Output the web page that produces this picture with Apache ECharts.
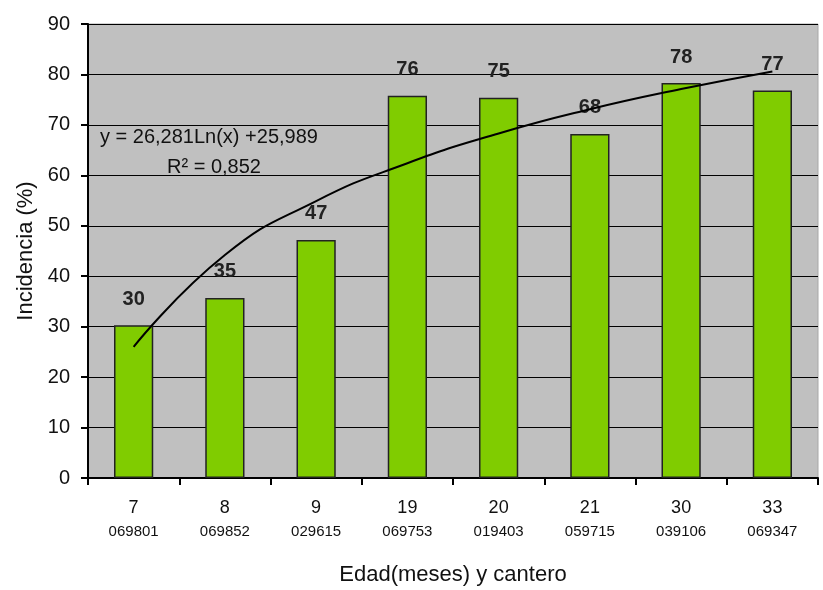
<!DOCTYPE html>
<html><head><meta charset="utf-8">
<script src="https://cdn.jsdelivr.net/npm/echarts@6/dist/echarts.min.js"></script>
<style>html,body{margin:0;padding:0;background:#fff}#c{width:823px;height:590px}</style>
</head><body><div id="c"></div>
<script>
var ages = ['7','8','9','19','20','21','30','33'];
var canteros = ['069801','069852','029615','069753','019403','059715','039106','069347'];
var incidencia = [30.3, 35.7, 47.2, 75.8, 75.4, 68.2, 78.3, 76.8];
var barLabels = ['30','35','47','76','75','68','78','77'];
var trend = [26.0, 44.2, 54.9, 62.4, 68.3, 73.1, 77.1, 80.6];
var yTicks = [0,10,20,30,40,50,60,70,80,90];

var chart = echarts.init(document.getElementById('c'));
chart.setOption({
  animation: false,
  grid: {left: 88, right: 5, top: 24, bottom: 112, outerBoundsMode: 'none', containLabel: false, show: true, backgroundColor: '#c0c0c0', borderColor: '#a8a8a8', borderWidth: 1},
  xAxis: {
    type: 'category',
    data: ages.map(function(a,i){return a + '\n' + canteros[i];}),
    boundaryGap: true,
    name: 'Edad(meses) y cantero',
    nameLocation: 'middle',
    nameGap: 86,
    nameTextStyle: {fontFamily: 'Liberation Sans', fontSize: 22, color: '#111'},
    axisLine: {lineStyle: {color: '#000', width: 2}},
    axisTick: {show: true, alignWithLabel: false, length: 7, lineStyle: {color: '#000', width: 2}},
    axisLabel: {
      margin: 17,
      formatter: function(v){ var p = v.split('\n'); return '{a|' + p[0] + '}\n{b|' + p[1] + '}'; },
      rich: {
        a: {fontFamily: 'Liberation Sans', fontSize: 18, color: '#111', lineHeight: 26},
        b: {fontFamily: 'Liberation Sans', fontSize: 15, color: '#111', lineHeight: 22}
      }
    },
    splitLine: {show: false}
  },
  yAxis: {
    type: 'value', min: 0, max: 90, interval: 10,
    name: 'Incidencia (%)',
    nameLocation: 'middle',
    nameGap: 50,
    nameRotate: 90,
    nameTextStyle: {fontFamily: 'Liberation Sans', fontSize: 22, color: '#111'},
    axisLine: {show: true, lineStyle: {color: '#000', width: 2}},
    axisTick: {show: true, length: 7, lineStyle: {color: '#000', width: 2}},
    axisLabel: {fontFamily: 'Liberation Sans', fontSize: 20, color: '#111', margin: 18,
      formatter: function(v){ return yTicks.indexOf(v) >= 0 ? String(v) : ''; }},
    splitLine: {show: true, lineStyle: {color: '#000', width: 1}}
  },
  series: [
    {
      type: 'bar', data: incidencia, barWidth: '43%',
      itemStyle: {color: '#80cc00', borderColor: '#222', borderWidth: 1.5},
      label: {show: true, position: 'top', distance: 16,
        formatter: function(p){ return barLabels[p.dataIndex]; },
        fontFamily: 'Liberation Sans', fontWeight: 'bold', fontSize: 20, color: '#222'}
    },
    {
      type: 'line', data: trend, smooth: true, symbol: 'none', z: 5,
      lineStyle: {color: '#000', width: 2}
    }
  ],
  graphic: [
    {type: 'text', left: 100, top: 127, z: 10, style: {text: 'y = 26,281Ln(x) +25,989', font: '20px "Liberation Sans"', fill: '#111'}},
    {type: 'text', left: 167, top: 157, z: 10, style: {text: 'R² = 0,852', font: '20px "Liberation Sans"', fill: '#111'}}
  ]
});
</script></body></html>
